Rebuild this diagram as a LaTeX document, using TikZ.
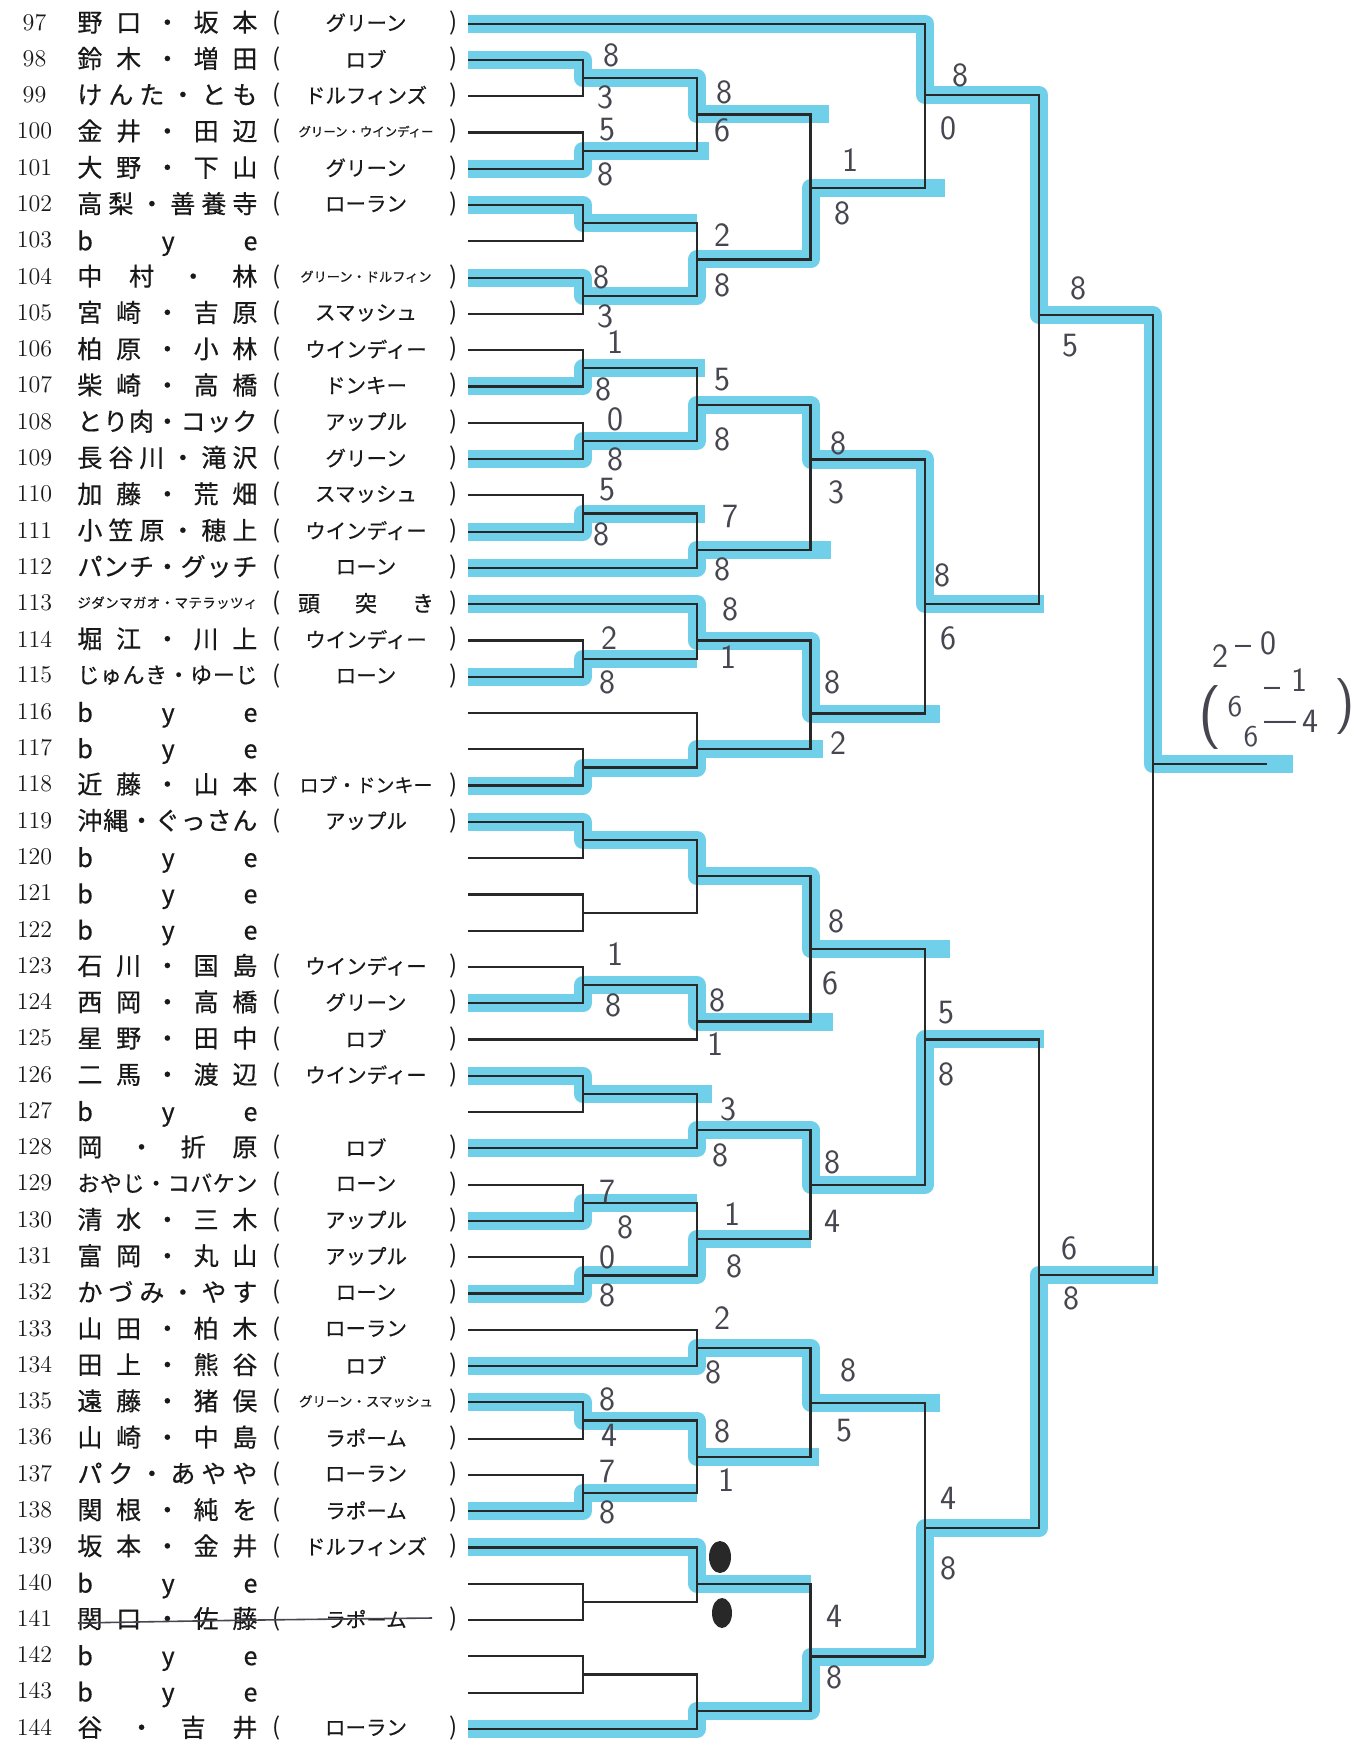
\documentclass[tikz,border=0pt]{standalone}
\usepackage{fontspec}
\newfontfamily\jp{Noto Sans CJK JP}
\newfontfamily\jpb{Noto Sans CJK JP}[FakeBold=0.5]
\usetikzlibrary{calc}
\makeatletter
\newcommand\sprd[2]{\hbox to #1{\let\sprsep\relax\@tfor\sprc:=#2\do{\sprsep\sprc\let\sprsep\hfill}}}
\makeatother
\definecolor{hlc}{RGB}{112,208,234}
\definecolor{linec}{RGB}{40,40,40}
\definecolor{inkc}{RGB}{25,25,25}
\definecolor{penc}{RGB}{70,70,80}
\tikzset{
 numtxt/.style={anchor=center, inner sep=0, text=inkc, font=\fontsize{12pt}{12pt}\selectfont},
 nametxt/.style={anchor=west, inner sep=0, text=inkc, font=\jpb},
 teamtxt/.style={anchor=center, inner sep=0, text=inkc, font=\jpb\fontsize{10.25pt}{10.25pt}\selectfont},
 partxt/.style={anchor=center, inner sep=0, text=inkc, font=\jp\fontsize{12pt}{12pt}\selectfont},
 bline/.style={draw=linec, line width=1.1pt},
 hl/.style={draw=hlc, line width=9pt, line join=round},
 score/.style={anchor=center, inner sep=0, text=penc, font=\sffamily\fontsize{17pt}{17pt}\selectfont},
}
\newcommand\prow[5]{%
 \coordinate (s#1) at (468,{23.7+36.28*#1});
 \node[numtxt] (num#1) at (34.5,{22.2+36.28*#1}) {#2};
 \node[nametxt] (nm#1) at (77,{22.2+36.28*#1}) {\fontsize{#3}{#3}\selectfont\sprd{90pt}{#4}};
 \node[partxt] (lp#1) at (276.5,{22.7+36.28*#1}) {(};
 \node[partxt] (rp#1) at (453.5,{22.7+36.28*#1}) {)};
 \node[teamtxt] (tm#1) at (366,{22.7+36.28*#1}) {#5};
}
\newcommand\byerow[2]{%
 \coordinate (s#1) at (468,{23.7+36.28*#1});
 \node[numtxt] (num#1) at (34.5,{22.2+36.28*#1}) {#2};
 \node[nametxt] (nm#1) at (77,{25.5+36.28*#1}) {\fontsize{12.5pt}{12.5pt}\selectfont\sprd{90pt}{bye}};
}
\newcommand\match[3]{\draw[bline] (#1) -- (#1 -| #3) -- (#2 -| #3) -- (#2);}
\newcommand\sm[2]{\fontsize{#1}{#1}\selectfont #2}
\begin{document}
\begin{tikzpicture}[x=0.5pt,y=-0.5pt]
\useasboundingbox (0,0) rectangle (1359,1743);
\fill[white] (0,0) rectangle (1359,1743);
% ---------- rows ----------
\prow{0}{97}{12.5pt}{野口・坂本}{グリーン}
\prow{1}{98}{12.5pt}{鈴木・増田}{ロブ}
\prow{2}{99}{12.5pt}{けんた・とも}{ドルフィンズ}
\prow{3}{100}{12.5pt}{金井・田辺}{\sm{6.2pt}{グリーン・ウインディー}}
\prow{4}{101}{12.5pt}{大野・下山}{グリーン}
\prow{5}{102}{12.5pt}{高梨・善養寺}{ローラン}
\byerow{6}{103}
\prow{7}{104}{12.5pt}{中村・林}{\sm{6.6pt}{グリーン・ドルフィン}}
\prow{8}{105}{12.5pt}{宮崎・吉原}{スマッシュ}
\prow{9}{106}{12.5pt}{柏原・小林}{ウインディー}
\prow{10}{107}{12.5pt}{柴崎・高橋}{ドンキー}
\prow{11}{108}{12.5pt}{とり肉・コック}{アップル}
\prow{12}{109}{12.5pt}{長谷川・滝沢}{グリーン}
\prow{13}{110}{12.5pt}{加藤・荒畑}{スマッシュ}
\prow{14}{111}{12.5pt}{小笠原・穂上}{ウインディー}
\prow{15}{112}{12.5pt}{パンチ・グッチ}{ローン}
\prow{16}{113}{6.75pt}{ジダンマガオ・マテラッツィ}{\sm{11pt}{\sprd{68pt}{頭突き}}}
\prow{17}{114}{12.5pt}{堀江・川上}{ウインディー}
\prow{18}{115}{11pt}{じゅんき・ゆーじ}{ローン}
\byerow{19}{116}
\byerow{20}{117}
\prow{21}{118}{12.5pt}{近藤・山本}{\sm{9.5pt}{ロブ・ドンキー}}
\prow{22}{119}{12.5pt}{沖縄・ぐっさん}{アップル}
\byerow{23}{120}
\byerow{24}{121}
\byerow{25}{122}
\prow{26}{123}{12.5pt}{石川・国島}{ウインディー}
\prow{27}{124}{12.5pt}{西岡・高橋}{グリーン}
\prow{28}{125}{12.5pt}{星野・田中}{ロブ}
\prow{29}{126}{12.5pt}{二馬・渡辺}{ウインディー}
\byerow{30}{127}
\prow{31}{128}{12.5pt}{岡・折原}{ロブ}
\prow{32}{129}{11pt}{おやじ・コバケン}{ローン}
\prow{33}{130}{12.5pt}{清水・三木}{アップル}
\prow{34}{131}{12.5pt}{富岡・丸山}{アップル}
\prow{35}{132}{12.5pt}{かづみ・やす}{ローン}
\prow{36}{133}{12.5pt}{山田・柏木}{ローラン}
\prow{37}{134}{12.5pt}{田上・熊谷}{ロブ}
\prow{38}{135}{12.5pt}{遠藤・猪俣}{\sm{6.75pt}{グリーン・スマッシュ}}
\prow{39}{136}{12.5pt}{山崎・中島}{ラポーム}
\prow{40}{137}{12.5pt}{パク・あやや}{ローラン}
\prow{41}{138}{12.5pt}{関根・純を}{ラポーム}
\prow{42}{139}{12.5pt}{坂本・金井}{ドルフィンズ}
\byerow{43}{140}
\prow{44}{141}{12.5pt}{関口・佐藤}{ラポーム}
\byerow{45}{142}
\byerow{46}{143}
\prow{47}{144}{12.5pt}{谷・吉井}{ローラン}
% ---------- junctions ----------
\coordinate (a1) at (583,78.2);   \coordinate (a2) at (583,150.7);
\coordinate (a3) at (583,223.3);  \coordinate (a4) at (583,295.8);
\coordinate (a5) at (583,368.4);  \coordinate (a6) at (583,441.0);
\coordinate (a7) at (583,513.5);  \coordinate (a8) at (583,658.6);
\coordinate (a9) at (583,767.5);  \coordinate (a10) at (583,840.0);
\coordinate (a11) at (583,912.6); \coordinate (a12) at (583,985.2);
\coordinate (a13) at (583,1094.0);\coordinate (a14) at (583,1202.8);
\coordinate (a15) at (583,1275.4);\coordinate (a16) at (583,1420.5);
\coordinate (a17) at (583,1493.0);\coordinate (a18) at (583,1601.9);
\coordinate (a19) at (583,1674.5);
\coordinate (b1) at (697,114.5);  \coordinate (b2) at (697,259.5);
\coordinate (b3) at (697,404.7);  \coordinate (b4) at (697,549.6);
\coordinate (b5) at (697,640.5);  \coordinate (b6) at (697,749.3);
\coordinate (b7) at (697,876.3);  \coordinate (b8) at (697,1021.5);
\coordinate (b9) at (697,1130.2); \coordinate (b10) at (697,1239.1);
\coordinate (b11) at (697,1348.0);\coordinate (b12) at (697,1456.8);
\coordinate (b13) at (697,1583.8);\coordinate (b14) at (697,1710.8);
\coordinate (c1) at (810.5,188);  \coordinate (c2) at (810.5,459.5);
\coordinate (c3) at (810.5,713.5);\coordinate (c4) at (810.5,949);
\coordinate (c5) at (810.5,1184.6);\coordinate (c6) at (810.5,1402.6);
\coordinate (c7) at (810.5,1656.5);
\coordinate (d1) at (925,95);     \coordinate (d2) at (925,604);
\coordinate (d3) at (925,1039.4); \coordinate (d4) at (925,1528.3);
\coordinate (e1) at (1039,315);   \coordinate (e2) at (1039,1275);
\coordinate (f) at (1153,764);    \coordinate (fend) at (1267,764);
% ---------- highlighter ----------
\begin{scope}[hl]
\draw (s0) -- (s0 -| d1) -- (d1) -- (d1 -| e1) -- (e1) -- (e1 -| f) -- (f) -- ($(fend)+(26,0)$);
\draw (s1) -- (s1 -| a1) -- (a1) -- (a1 -| b1) -- (b1) -- ($(b1 -| c1)+(18,0)$);
\draw (s4) -- (s4 -| a2) -- (a2) -- ($(a2 -| b1)+(12,0)$);
\draw (s5) -- (s5 -| a3) -- (a3) -- (a3 -| b2);
\draw (s7) -- (s7 -| a4) -- (a4) -- (a4 -| b2) -- (b2) -- (b2 -| c1) -- (c1) -- ($(c1 -| d1)+(20,0)$);
\draw (s10) -- (s10 -| a5) -- (a5) -- ($(a5 -| b3)+(8,0)$);
\draw (s12) -- (s12 -| a6) -- (a6) -- (a6 -| b3) -- (b3) -- (b3 -| c2) -- (c2) -- (c2 -| d2) -- (d2) -- ($(d2 -| e1)+(5,0)$);
\draw (s14) -- (s14 -| a7) -- (a7) -- ($(a7 -| b4)+(8,0)$);
\draw (s15) -- (s15 -| b4) -- (b4) -- ($(b4 -| c2)+(20,0)$);
\draw (s16) -- (s16 -| b5) -- (b5) -- (b5 -| c3) -- (c3) -- ($(c3 -| d2)+(15,0)$);
\draw (s18) -- (s18 -| a8) -- (a8) -- (a8 -| b5);
\draw (s21) -- (s21 -| a9) -- (a9) -- (a9 -| b6) -- (b6) -- ($(b6 -| c3)+(12,0)$);
\draw (s22) -- (s22 -| a10) -- (a10) -- (a10 -| b7) -- (b7) -- (b7 -| c4) -- (c4) -- ($(c4 -| d3)+(25,0)$);
\draw (s27) -- (s27 -| a12) -- (a12) -- (a12 -| b8) -- (b8) -- ($(b8 -| c4)+(22,0)$);
\draw (s29) -- (s29 -| a13) -- (a13) -- ($(a13 -| b9)+(15,0)$);
\draw (s31) -- (s31 -| b9) -- (b9) -- (b9 -| c5) -- (c5) -- (c5 -| d3) -- (d3) -- ($(d3 -| e2)+(5,0)$);
\draw (s33) -- (s33 -| a14) -- (a14) -- (a14 -| b10);
\draw (s35) -- (s35 -| a15) -- (a15) -- (a15 -| b10) -- (b10) -- (b10 -| c5);
\draw (s37) -- (s37 -| b11) -- (b11) -- (b11 -| c6) -- (c6) -- ($(c6 -| d4)+(15,0)$);
\draw (s38) -- (s38 -| a16) -- (a16) -- (a16 -| b12) -- (b12) -- ($(b12 -| c6)+(8,0)$);
\draw (s41) -- (s41 -| a17) -- (a17) -- (a17 -| b12);
\draw (s42) -- (s42 -| b13) -- (b13) -- (b13 -| c7);
\draw (s47) -- (s47 -| b14) -- (b14) -- (b14 -| c7) -- (c7) -- (c7 -| d4) -- (d4) -- (d4 -| e2) -- (e2) -- ($(e2 -| f)+(5,0)$);
\end{scope}
% ---------- bracket lines ----------
\match{s1}{s2}{a1}\match{s3}{s4}{a2}\match{s5}{s6}{a3}\match{s7}{s8}{a4}
\match{s9}{s10}{a5}\match{s11}{s12}{a6}\match{s13}{s14}{a7}\match{s17}{s18}{a8}
\match{s20}{s21}{a9}\match{s22}{s23}{a10}\match{s24}{s25}{a11}\match{s26}{s27}{a12}
\match{s29}{s30}{a13}\match{s32}{s33}{a14}\match{s34}{s35}{a15}\match{s38}{s39}{a16}
\match{s40}{s41}{a17}\match{s43}{s44}{a18}\match{s45}{s46}{a19}
\match{a1}{a2}{b1}\match{a3}{a4}{b2}\match{a5}{a6}{b3}\match{a7}{s15}{b4}
\match{s16}{a8}{b5}\match{s19}{a9}{b6}\match{a10}{a11}{b7}\match{a12}{s28}{b8}
\match{a13}{s31}{b9}\match{a14}{a15}{b10}\match{s36}{s37}{b11}\match{a16}{a17}{b12}
\match{s42}{a18}{b13}\match{a19}{s47}{b14}
\match{b1}{b2}{c1}\match{b3}{b4}{c2}\match{b5}{b6}{c3}\match{b7}{b8}{c4}
\match{b9}{b10}{c5}\match{b11}{b12}{c6}\match{b13}{b14}{c7}
\match{s0}{c1}{d1}\match{c2}{c3}{d2}\match{c4}{c5}{d3}\match{c6}{c7}{d4}
\match{d1}{d2}{e1}\match{d3}{d4}{e2}
\match{e1}{e2}{f}
\draw[bline] (f) -- (fend);
% ---------- strike-through on 141 ----------
\coordinate (st1) at (78,1623);
\coordinate (st2) at (432,1618);
\draw[penc, line width=0.8pt] (st1) .. controls (250,1620) .. (st2);
% ---------- scores ----------
\node[score] (sc1) at (611,55) {8};   \node[score] (sc2) at (605,97) {3};
\node[score] (sc3) at (607,130) {5};  \node[score] (sc4) at (605,174) {8};
\node[score] (sc5) at (724,92) {8};   \node[score] (sc6) at (722,130) {6};
\node[score] (sc7) at (850,160) {1};  \node[score] (sc8) at (842,213) {8};
\node[score] (sc9) at (960,75) {8};   \node[score] (sc10) at (948,128) {0};
\node[score] (sc11) at (722,235) {2}; \node[score] (sc12) at (722,285) {8};
\node[score] (sc13) at (601,277) {8}; \node[score] (sc14) at (605,316) {3};
\node[score] (sc15) at (615,342) {1}; \node[score] (sc16) at (603,389) {8};
\node[score] (sc17) at (722,380) {5}; \node[score] (sc18) at (722,439) {8};
\node[score] (sc19) at (615,419) {0}; \node[score] (sc20) at (615,459) {8};
\node[score] (sc21) at (838,443) {8}; \node[score] (sc22) at (836,492) {3};
\node[score] (sc23) at (607,490) {5}; \node[score] (sc24) at (601,534) {8};
\node[score] (sc25) at (730,516) {7}; \node[score] (sc26) at (722,569) {8};
\node[score] (sc27) at (942,575) {8}; \node[score] (sc28) at (948,638) {6};
\node[score] (sc29) at (730,609) {8}; \node[score] (sc30) at (728,657) {1};
\node[score] (sc31) at (609,638) {2}; \node[score] (sc32) at (607,682) {8};
\node[score] (sc33) at (832,682) {8}; \node[score] (sc34) at (838,743) {2};
\node[score] (sc35) at (1078,288) {8};\node[score] (sc36) at (1070,346) {5};
\node[score] (sc37) at (836,921) {8}; \node[score] (sc38) at (830,983) {6};
\node[score] (sc39) at (615,954) {1}; \node[score] (sc40) at (613,1005) {8};
\node[score] (sc41) at (717,1000) {8};\node[score] (sc42) at (715,1044) {1};
\node[score] (sc43) at (946,1013) {5};\node[score] (sc44) at (946,1074) {8};
\node[score] (sc45) at (728,1109) {3};\node[score] (sc46) at (720,1155) {8};
\node[score] (sc47) at (832,1162) {8};\node[score] (sc48) at (832,1221) {4};
\node[score] (sc49) at (607,1191) {7};\node[score] (sc50) at (625,1227) {8};
\node[score] (sc51) at (732,1214) {1};\node[score] (sc52) at (734,1266) {8};
\node[score] (sc53) at (607,1257) {0};\node[score] (sc54) at (607,1295) {8};
\node[score] (sc55) at (1069,1248) {6};\node[score] (sc56) at (1071,1298) {8};
\node[score] (sc57) at (722,1318) {2};\node[score] (sc58) at (713,1372) {8};
\node[score] (sc59) at (848,1370) {8};\node[score] (sc60) at (844,1431) {5};
\node[score] (sc61) at (607,1399) {8};\node[score] (sc62) at (609,1435) {4};
\node[score] (sc63) at (722,1431) {8};\node[score] (sc64) at (726,1480) {1};
\node[score] (sc65) at (607,1471) {7};\node[score] (sc66) at (607,1512) {8};
\node[score] (sc67) at (948,1498) {4};\node[score] (sc68) at (948,1568) {8};
\node[score] (sc69) at (834,1616) {4};\node[score] (sc70) at (834,1677) {8};
\fill[linec] (720,1557) ellipse [x radius=11, y radius=16];
\fill[linec] (722,1613) ellipse [x radius=10, y radius=15];
% ---------- final score ----------
\node[score] (fs1) at (1220,656) {2};
\node[score] (fs2) at (1243,650) {–};
\node[score] (fs3) at (1268,643) {0};
\node[score, font=\sffamily\fontsize{32pt}{32pt}\selectfont] (fs4) at (1210,718) {(};
\node[score, font=\sffamily\fontsize{15pt}{15pt}\selectfont] (fs5) at (1235,707) {6};
\node[score] (fs6) at (1272,692) {–};
\node[score] (fs7) at (1299,680) {1};
\node[score, font=\sffamily\fontsize{15pt}{15pt}\selectfont] (fs8) at (1251,737) {6};
\node[score] (fs9) at (1280,726) {—};
\node[score] (fs10) at (1310,721) {4};
\node[score, font=\sffamily\fontsize{28pt}{28pt}\selectfont] (fs11) at (1345,707) {)};
\end{tikzpicture}
\end{document}
